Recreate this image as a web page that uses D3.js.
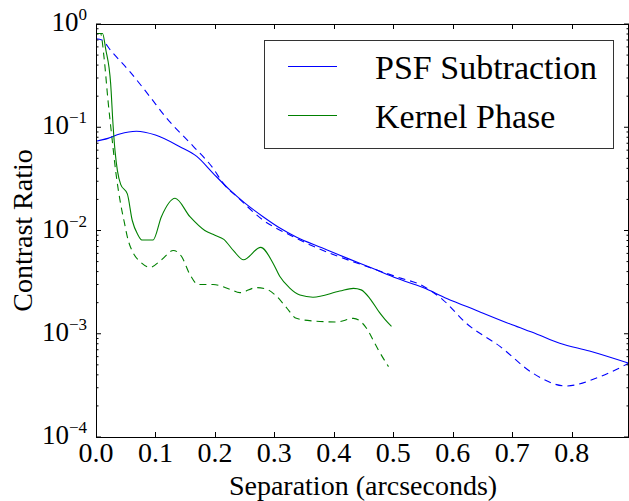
<!DOCTYPE html>
<html>
<head>
<meta charset="utf-8">
<script src="https://cdn.jsdelivr.net/npm/d3@7"></script>
</head>
<body style="margin:0">
<svg id="chart" width="629" height="501"></svg>
<script>
// ---------- data ----------
const psfSolidSep = [0, 0.02, 0.04, 0.068, 0.1, 0.141, 0.17, 0.197, 0.225, 0.25, 0.281, 0.31, 0.3375, 0.38, 0.422, 0.465, 0.506, 0.55, 0.59, 0.64, 0.70, 0.74, 0.78, 0.83, 0.8965];
const psfSolidVal = [0.0732, 0.078, 0.086, 0.0914, 0.084, 0.0648, 0.0519, 0.0358, 0.0247, 0.0185, 0.0136, 0.0105, 0.0086, 0.0068, 0.0054, 0.0043, 0.00344, 0.0028, 0.0022, 0.00168, 0.00122, 0.001, 0.00081, 0.00068, 0.000517];

const psfDashSep = [0, 0.01, 0.025, 0.058, 0.09, 0.119, 0.164, 0.197, 0.214, 0.24, 0.281, 0.326, 0.394, 0.45, 0.506, 0.55, 0.584, 0.623, 0.68, 0.735, 0.79, 0.848, 0.8965];
const psfDashVal = [0.72, 0.70, 0.552, 0.34, 0.2, 0.122, 0.065, 0.04, 0.0286, 0.0205, 0.0126, 0.00904, 0.006, 0.0046, 0.00355, 0.0029, 0.00212, 0.00126, 0.00075, 0.000414, 0.000312, 0.000384, 0.00052];

const kpSolidSep = [0, 0.011, 0.0163, 0.0247, 0.0286, 0.032, 0.036, 0.0415, 0.0527, 0.061, 0.07, 0.077, 0.096, 0.11, 0.133, 0.158, 0.183, 0.2, 0.215, 0.232, 0.248, 0.277, 0.298, 0.309, 0.325, 0.343, 0.365, 0.41, 0.433, 0.446, 0.461, 0.477, 0.486, 0.497];
const kpSolidVal = [0.81, 0.81, 0.57, 0.262, 0.107, 0.059, 0.038, 0.028, 0.0226, 0.0125, 0.0092, 0.0081, 0.0081, 0.0136, 0.0205, 0.0136, 0.0100, 0.009, 0.0082, 0.0063, 0.0052, 0.00687, 0.0048, 0.0036, 0.0028, 0.00237, 0.00226, 0.00259, 0.00275, 0.00266, 0.00218, 0.0016, 0.00138, 0.00118];

const kpDashSep = [0, 0.0077, 0.0135, 0.0202, 0.0274, 0.033, 0.0415, 0.047, 0.054, 0.063, 0.074, 0.091, 0.11, 0.13, 0.144, 0.158, 0.172, 0.197, 0.225, 0.242, 0.27, 0.287, 0.304, 0.32, 0.337, 0.365, 0.405, 0.433, 0.444, 0.455, 0.466, 0.476, 0.492];
const kpDashVal = [0.81, 0.81, 0.475, 0.181, 0.074, 0.038, 0.018, 0.0125, 0.0081, 0.006, 0.005, 0.0044, 0.0052, 0.0064, 0.0056, 0.00375, 0.0030, 0.0030, 0.0027, 0.0025, 0.0028, 0.0027, 0.0023, 0.0018, 0.00141, 0.00133, 0.0013, 0.00141, 0.00133, 0.00113, 0.00087, 0.00068, 0.00048];

const xTicks = [0.0, 0.1, 0.2, 0.3, 0.4, 0.5, 0.6, 0.7, 0.8];
const xTickLabels = ["0.0", "0.1", "0.2", "0.3", "0.4", "0.5", "0.6", "0.7", "0.8"];
const yTicks = [1, 0.1, 0.01, 0.001, 0.0001];
const yTickExps = ["0", "−1", "−2", "−3", "−4"];
const legendLabels = ["PSF Subtraction", "Kernel Phase"];
const colors = ["#0000ff", "#008000"];
const FONT = "'Liberation Serif'";

// ---------- layout ----------
const L = 96, R = 629, T = 24, B = 437;
const svg = d3.select("#chart");
const x = d3.scaleLinear().domain([0, 0.8965]).range([L, R]);
const y = d3.scaleLog().domain([1e-4, 1]).range([B, T]);

svg.append("defs").append("clipPath").attr("id", "clip")
  .append("rect").attr("x", L).attr("y", T).attr("width", R - L).attr("height", B - T);

const line = d3.line().x(d => x(d[0])).y(d => y(d[1])).curve(d3.curveMonotoneX);
const zip = (a, b) => a.map((v, i) => [v, b[i]]);

const series = [
  { data: zip(psfDashSep, psfDashVal), color: colors[0], dash: "7,5" },
  { data: zip(kpDashSep, kpDashVal), color: colors[1], dash: "7,5" },
  { data: zip(psfSolidSep, psfSolidVal), color: colors[0], dash: null },
  { data: zip(kpSolidSep, kpSolidVal), color: colors[1], dash: null },
];
const g = svg.append("g").attr("clip-path", "url(#clip)");
series.forEach(s => {
  g.append("path").attr("d", line(s.data))
    .attr("fill", "none").attr("stroke", s.color).attr("stroke-width", 1.1)
    .attr("stroke-dasharray", s.dash);
});

// ---------- axes ----------
const ax = svg.append("g").attr("stroke", "#000").attr("stroke-width", 1);
xTicks.forEach(t => {
  const px = Math.round(x(t)) + 0.5;
  ax.append("line").attr("x1", px).attr("x2", px).attr("y1", B).attr("y2", B - 5);
  ax.append("line").attr("x1", px).attr("x2", px).attr("y1", T).attr("y2", T + 5);
});
for (let e = -4; e <= 0; e++) {
  const py = y(Math.pow(10, e));
  ax.append("line").attr("x1", L).attr("x2", L + 5).attr("y1", py).attr("y2", py);
  ax.append("line").attr("x1", R).attr("x2", R - 5).attr("y1", py).attr("y2", py);
  if (e < 0) {
    for (let m = 2; m <= 9; m++) {
      const pm = y(m * Math.pow(10, e));
      ax.append("line").attr("x1", L).attr("x2", L + 2.5).attr("y1", pm).attr("y2", pm);
      ax.append("line").attr("x1", R).attr("x2", R - 2.5).attr("y1", pm).attr("y2", pm);
    }
  }
}
ax.append("rect").attr("x", L + 0.5).attr("y", T + 0.5).attr("width", R - L - 1).attr("height", B - T)
  .attr("fill", "none");

// tick labels
xTicks.forEach((t, i) => {
  svg.append("text").attr("x", x(t)).attr("y", 462).attr("text-anchor", "middle")
    .style("font-family", FONT).attr("font-size", 28).text(xTickLabels[i]);
});
yTicks.forEach((t, i) => {
  const txt = svg.append("text").attr("x", 87).attr("y", y(t) + 7).attr("text-anchor", "end")
    .style("font-family", FONT).attr("font-size", 27);
  txt.append("tspan").text("10");
  txt.append("tspan").attr("dy", -11).attr("font-size", 17).text(yTickExps[i]);
});

// axis labels
svg.append("text").attr("x", 363).attr("y", 495).attr("text-anchor", "middle")
  .style("font-family", FONT).attr("font-size", 28).text("Separation (arcseconds)");
svg.append("text").attr("transform", "translate(31.5," + ((T + B) / 2) + ") rotate(-90)")
  .attr("text-anchor", "middle").style("font-family", FONT).attr("font-size", 28).text("Contrast Ratio");

// legend
const lg = svg.append("g");
lg.append("rect").attr("x", 264.5).attr("y", 40.5).attr("width", 349).attr("height", 108)
  .attr("fill", "#fff").attr("stroke", "#333").attr("stroke-width", 1);
const legY = [66.5, 115.5];
legendLabels.forEach((lab, i) => {
  lg.append("line").attr("x1", 288).attr("x2", 337).attr("y1", legY[i]).attr("y2", legY[i])
    .attr("stroke", colors[i]).attr("stroke-width", 1.1);
  lg.append("text").attr("x", 375).attr("y", legY[i] + 12.5)
    .style("font-family", FONT).attr("font-size", 34).text(lab);
});
</script>
</body>
</html>
